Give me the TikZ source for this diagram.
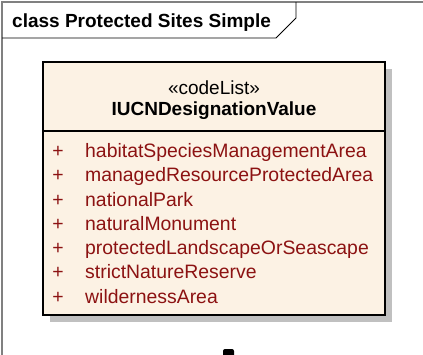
\documentclass[tikz,border=0pt]{standalone}
\usepackage{fontspec}
\setmainfont{Liberation Sans}
\usetikzlibrary{calc}
\definecolor{umlfill}{RGB}{252,242,228}
\definecolor{umlshadow}{RGB}{192,192,192}
\definecolor{umlattr}{RGB}{140,18,18}
\definecolor{umlframe}{RGB}{128,128,128}
\tikzset{
  umltext/.style={font=\fontsize{19}{22}\selectfont, inner sep=0pt},
  umlbold/.style={font=\fontsize{19}{22}\selectfont\bfseries, inner sep=0pt},
  umlattr/.style={font=\fontsize{19.4}{22}\selectfont, text=umlattr, inner sep=0pt}
}
\begin{document}
\begin{tikzpicture}[x=1pt, y=-1pt, line join=miter]
\useasboundingbox (0,0) rectangle (423,354);
\path
(2,2) coordinate (F1)
(440,380) coordinate (F2)
(2,38) coordinate (T0)
(276,38) coordinate (T1)
(296,18) coordinate (T2)
(296,2) coordinate (T3)
(43,62) coordinate (A)
(385,315) coordinate (B)
(214,131) coordinate (S)
;
% frame and its label tab
\draw[umlframe, line width=1.5pt] (F1) rectangle (F2);
\draw[line width=0.8pt] (T0) -- (T1) -- (T2) -- (T3);
\node[umlbold, anchor=base west] (frametitle) at (12,27) {class Protected Sites Simple};
% class box with shadow
\fill[umlshadow] ($(A)+(7,7)$) rectangle ($(B)+(7,7)$);
\draw[fill=umlfill, line width=1.6pt] (A) rectangle (B);
\draw[line width=1.6pt] (A |- S) -- (B |- S);
\node[umltext, anchor=base] (stereo) at (214,94) {«codeList»};
\node[umlbold, anchor=base] (classname) at (214,115.7) {IUCNDesignationValue};
\foreach \t [count=\i from 0] in {habitatSpeciesManagementArea, managedResourceProtectedArea,
  nationalPark, naturalMonument, protectedLandscapeOrSeascape, strictNatureReserve, wildernessArea}
{
  \node[umlattr, anchor=base] (plus\i) at (58,{157.5+24.25*\i}) {+};
  \node[umlattr, anchor=base west] (attr\i) at (85,{157.5+24.25*\i}) {\t};
}
% end of the element below, cut by the border
\fill[rounded corners=2pt] (223,349) rectangle (234,360);
\end{tikzpicture}
\end{document}
